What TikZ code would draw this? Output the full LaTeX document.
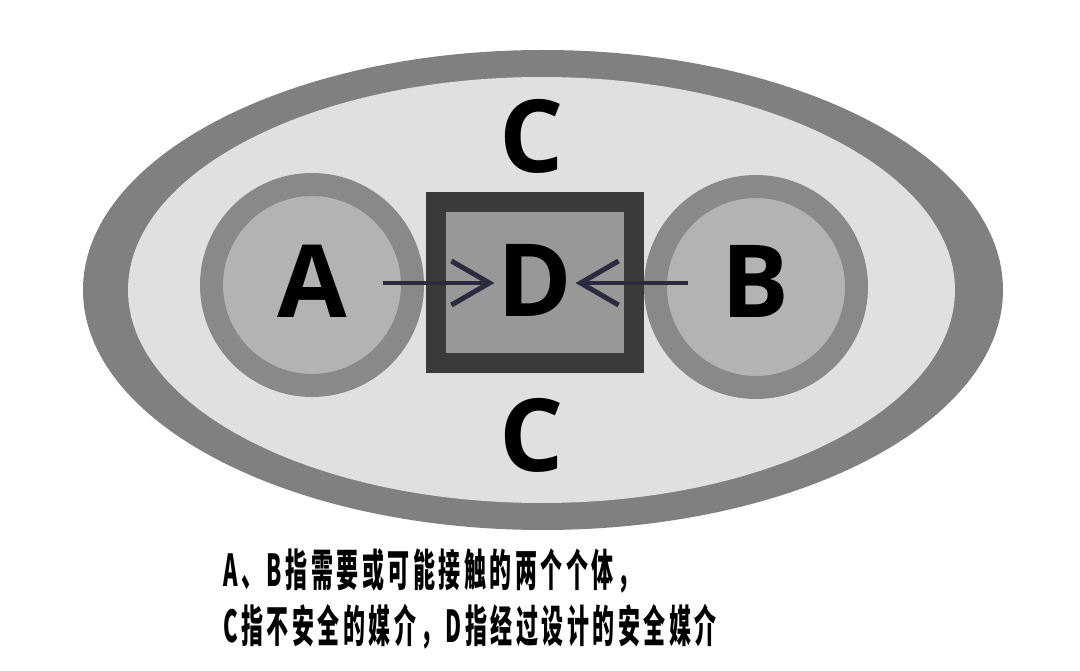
\documentclass[tikz,border=0pt]{standalone}
\usepackage{fontspec}
\setmainfont{Open Sans}
\newfontfamily\labfont{Open Sans}
\newfontfamily\cjk{Noto Sans CJK SC}[LetterSpace=16]
\usetikzlibrary{arrows.meta}
\definecolor{ringgray}{HTML}{808080}
\definecolor{ellfill}{HTML}{E0E0E0}
\definecolor{circring}{HTML}{898989}
\definecolor{circfill}{HTML}{B3B3B3}
\definecolor{sqborder}{HTML}{3A3A3A}
\definecolor{sqfill}{HTML}{989898}
\definecolor{arrowcol}{HTML}{2B2B3F}
\tikzset{
  bigletter/.style={inner sep=0pt, font=\labfont\bfseries\fontsize{101}{101}\selectfont},
  person/.style={circle, inner sep=0pt, minimum size=201pt, draw=circring, line width=23pt, fill=circfill},
  medium/.style={rectangle, inner sep=0pt, minimum width=198pt, minimum height=161pt, draw=sqborder, line width=20pt, fill=sqfill},
  flow/.style={draw=arrowcol, line width=4.5pt, -{Straight Barb[length=38pt,width=44pt,line width=5pt]}},
  caption/.style={anchor=west, inner sep=0pt, font=\cjk\bfseries\fontsize{44}{44}\selectfont}
}
\begin{document}
\begin{tikzpicture}[x=1pt,y=-1pt]
\useasboundingbox (0,0) rectangle (1080,671);
\fill[white] (0,0) rectangle (1080,671);
% outer ellipse ring
\fill[ringgray] (543,290) ellipse [x radius=460, y radius=240];
\fill[ellfill] (541.5,290) ellipse [x radius=413.5, y radius=213];
% circles and square
\node[person] (cA) at (312,285) {};
\node[person] (cB) at (756,287) {};
\node[medium] (sq) at (535,282.5) {};
% labels
\node[bigletter] (A) at (312,281) {A};
\node[bigletter] (B) at (755,281) {B};
\node[bigletter] (D) at (535,280) {D};
\node[bigletter] (C1) at (532,136) {C};
\node[bigletter] (C2) at (532,435) {C};
% arrows
\coordinate (sA) at (383,283);
\coordinate (sB) at (688,283);
\draw[flow] (sA) -- ([xshift=-3pt]D.west |- sA);
\draw[flow] (sB) -- ([xshift=3pt]D.east |- sB);
% caption
\node[caption] (t1) at (223,571) {\scalebox{0.5}[1]{A、B指需要或可能接触的两个个体，}};
\node[caption] (t2) at (223,627) {\scalebox{0.5}[1]{C指不安全的媒介，D指经过设计的安全媒介}};
\end{tikzpicture}
\end{document}
